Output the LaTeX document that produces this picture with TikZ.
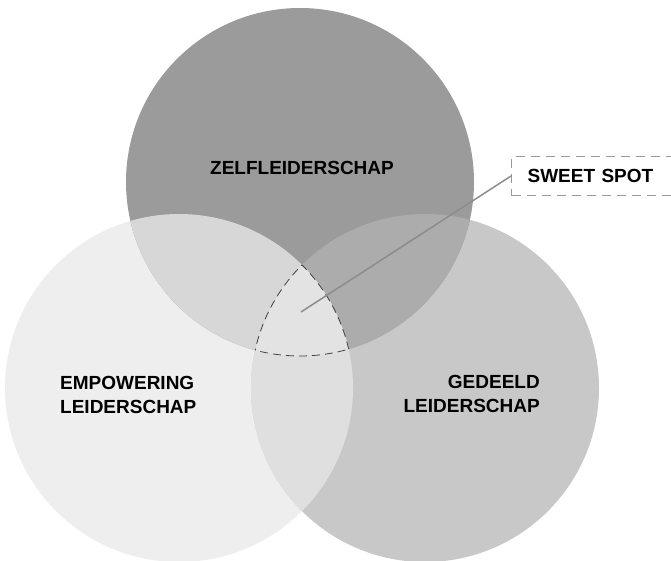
\documentclass[tikz,border=0pt]{standalone}
\usepackage{fontspec}
\setmainfont{Liberation Sans}
\definecolor{topgray}{HTML}{9B9B9B}
\definecolor{leftgray}{HTML}{EEEEEE}
\definecolor{rightgray}{HTML}{C8C8C8}
\definecolor{tlgray}{HTML}{D7D7D7}
\definecolor{trgray}{HTML}{ACACAC}
\definecolor{lrgray}{HTML}{DFDFDF}
\definecolor{spotgray}{HTML}{E3E3E3}
\begin{document}
\begin{tikzpicture}[x=1pt,y=-1pt,
  venntext/.style={font=\fontsize{19}{24}\selectfont\bfseries, inner sep=0pt},
  spotline/.style={draw=black!75, line width=0.8pt, dash pattern=on 8pt off 5pt},
  calloutbox/.style={draw=black!40, line width=1.2pt, dash pattern=on 9pt off 6pt,
    font=\fontsize{19}{24}\selectfont\bfseries, anchor=west, minimum height=39pt,
    inner xsep=16pt, text width=150pt, align=left}]
\useasboundingbox (0,0) rectangle (671,560);
\def\rad{174pt}
\coordinate (T) at (300,182);
\coordinate (L) at (179,388);
\coordinate (R) at (425,388);
% circles
\fill[leftgray] (L) circle[radius=\rad];
\fill[rightgray] (R) circle[radius=\rad];
\fill[topgray] (T) circle[radius=\rad];
% overlaps
\begin{scope}
\clip (T) circle[radius=\rad];
\fill[tlgray] (L) circle[radius=\rad];
\end{scope}
\begin{scope}
\clip (T) circle[radius=\rad];
\fill[trgray] (R) circle[radius=\rad];
\end{scope}
\begin{scope}
\clip (L) circle[radius=\rad];
\fill[lrgray] (R) circle[radius=\rad];
\end{scope}
\begin{scope}
\clip (T) circle[radius=\rad];
\clip (L) circle[radius=\rad];
\fill[spotgray] (R) circle[radius=\rad];
\end{scope}
% sweet spot outline
\begin{scope}
\clip (L) circle[radius=\rad];
\clip (R) circle[radius=\rad];
\draw[spotline] (T) circle[radius=\rad];
\end{scope}
\begin{scope}
\clip (T) circle[radius=\rad];
\clip (L) circle[radius=\rad];
\draw[spotline] (R) circle[radius=\rad];
\end{scope}
\begin{scope}
\clip (T) circle[radius=\rad];
\clip (R) circle[radius=\rad];
\draw[spotline] (L) circle[radius=\rad];
\end{scope}
% labels
\node[venntext] (zelf) at (302,168) {ZELFLEIDERSCHAP};
\node[venntext, align=left, anchor=west] (empowering) at (60,395) {EMPOWERING\\LEIDERSCHAP};
\node[venntext, align=right, anchor=east] (gedeeld) at (540,394) {GEDEELD\\LEIDERSCHAP};
% callout
\coordinate (spot) at (301,312);
\node[calloutbox] (sweetspot) at (511,176) {SWEET SPOT};
\draw[black!45, line width=1.5pt] (spot) -- (sweetspot.west);
\end{tikzpicture}
\end{document}
